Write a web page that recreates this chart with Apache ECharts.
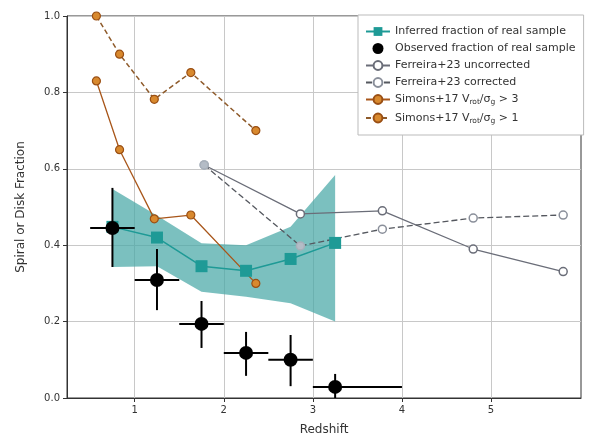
<!DOCTYPE html>
<html><head><meta charset="utf-8">
<script src="https://cdn.jsdelivr.net/npm/echarts@6/dist/echarts.min.js"></script>
<style>html,body{margin:0;padding:0;background:#fff}#c{width:596px;height:442px}</style>
</head><body><div id="c"></div>
<script>
// ---- data ----
const xBins = [0.75, 1.25, 1.75, 2.25, 2.75, 3.25];
const yInferred = [0.448, 0.42, 0.345, 0.333, 0.364, 0.406];
const bandUpper = [0.547, 0.478, 0.405, 0.40, 0.448, 0.584];
const bandLower = [0.343, 0.345, 0.278, 0.265, 0.248, 0.20];

const yObserved = [0.445, 0.309, 0.194, 0.118, 0.10, 0.029];
const xErrLo = [0.5, 1.0, 1.5, 2.0, 2.5, 3.0];
const xErrHi = [1.0, 1.5, 2.0, 2.5, 3.0, 4.0];
const yErrLo = [0.343, 0.23, 0.131, 0.058, 0.031, 0.0];
const yErrHi = [0.55, 0.39, 0.254, 0.173, 0.165, 0.063];

const xFerreira = [1.78, 2.86, 3.78, 4.80, 5.81];
const yFerUncorr = [0.61, 0.482, 0.49, 0.39, 0.331];
const yFerCorr = [0.61, 0.398, 0.442, 0.471, 0.479];

const xSimons = [0.57, 0.83, 1.22, 1.63, 2.36];
const ySimons3 = [0.83, 0.65, 0.469, 0.479, 0.30];
const ySimons1 = [1.0, 0.90, 0.782, 0.852, 0.70];

const xTicks = [1, 2, 3, 4, 5];

const names = [
  'Inferred fraction of real sample',
  'Observed fraction of real sample',
  'Ferreira+23 uncorrected',
  'Ferreira+23 corrected',
  'Simons+17 V_rot/σ_g > 3',
  'Simons+17 V_rot/σ_g > 1'
];

const zip = (xs, ys) => xs.map((x, i) => [x, ys[i]]);

const chart = echarts.init(document.getElementById('c'), null, {renderer: 'canvas'});
const font = 'DejaVu Sans';

const option = {
  animation: false,
  textStyle: {fontFamily: font},
  grid: {left: 67, right: 15, top: 16, bottom: 44, show: true, borderColor: '#333', borderWidth: 1},
  xAxis: {
    type: 'value', min: 0.24, max: 6.01,
    name: 'Redshift', nameLocation: 'middle', nameGap: 26,
    nameTextStyle: {fontSize: 12, color: '#333', fontFamily: font},
    axisLine: {show: true, onZero: false, lineStyle: {color: '#333'}},
    axisTick: {show: true, inside: false, length: 4, customValues: xTicks, lineStyle: {color: '#333'}},
    axisLabel: {customValues: xTicks, fontSize: 10, color: '#333', margin: 7, fontFamily: font},
    splitLine: {show: true, lineStyle: {color: '#c8c8c8', width: 1}}
  },
  yAxis: {
    type: 'value', min: 0, max: 1, interval: 0.2,
    name: 'Spiral or Disk Fraction', nameLocation: 'middle', nameGap: 40,
    nameTextStyle: {fontSize: 12, color: '#333', fontFamily: font},
    axisLine: {show: true, lineStyle: {color: '#333'}},
    axisTick: {show: true, length: 4, lineStyle: {color: '#333'}},
    axisLabel: {fontSize: 10, color: '#333', margin: 7, formatter: v => v.toFixed(1), fontFamily: font},
    splitLine: {show: true, lineStyle: {color: '#c8c8c8', width: 1}}
  },
  legend: {
    orient: 'vertical', left: 358, top: 15,
    data: names,
    itemWidth: 24, itemHeight: 11, itemGap: 6,
    padding: [11, 8, 10, 7],
    backgroundColor: '#fff', borderColor: '#bbb', borderWidth: 1,
    textStyle: {fontSize: 11, color: '#333', fontFamily: font,
      rich: {s: {fontSize: 7.5, verticalAlign: 'bottom', padding: [6, 0, 0, 0]}}},
    formatter: n => n.replace(/_(rot|g)/g, '{s|$1}')
  },
  series: [
    {
      name: 'band', type: 'custom', z: 1, silent: true,
      data: [0],
      renderItem: (params, api) => {
        const pts = [];
        xBins.forEach((x, i) => pts.push(api.coord([x, bandUpper[i]])));
        for (let i = xBins.length - 1; i >= 0; i--) pts.push(api.coord([xBins[i], bandLower[i]]));
        return {type: 'polygon', shape: {points: pts}, style: {fill: 'rgba(72,168,166,0.72)'}};
      }
    },
    {
      name: names[0], type: 'line', z: 5, data: zip(xBins, yInferred),
      color: '#1e9a96',
      symbol: 'rect', symbolSize: 12,
      lineStyle: {color: '#1e9a96', width: 1.5},
      itemStyle: {color: '#1e9a96'}
    },
    {
      name: 'errbars', type: 'custom', z: 6, silent: true,
      data: xBins.map((x, i) => [x, yObserved[i], xErrLo[i], xErrHi[i], yErrLo[i], yErrHi[i]]),
      renderItem: (params, api) => {
        const x = api.value(0), y = api.value(1);
        const a = api.coord([api.value(2), y]), b = api.coord([api.value(3), y]);
        const c = api.coord([x, api.value(4)]), d = api.coord([x, api.value(5)]);
        return {type: 'group', children: [
          {type: 'line', shape: {x1: a[0], y1: a[1], x2: b[0], y2: b[1]}, style: {stroke: '#000', lineWidth: 2}},
          {type: 'line', shape: {x1: c[0], y1: c[1], x2: d[0], y2: d[1]}, style: {stroke: '#000', lineWidth: 2}}
        ]};
      }
    },
    {
      name: names[1], type: 'scatter', z: 7, data: zip(xBins, yObserved),
      symbol: 'circle', symbolSize: 14, itemStyle: {color: '#000', opacity: 1}
    },
    {
      name: names[2], type: 'line', z: 4,
      symbol: 'circle', symbolSize: 8,
      lineStyle: {color: '#6a6d78', width: 1.3},
      itemStyle: {color: '#fff', borderColor: '#6a6d78', borderWidth: 1.5},
      data: zip(xFerreira, yFerUncorr).map((p, i) => i === 0 ? {value: p, itemStyle: {color: '#9aa6b2', borderColor: '#9aa6b2'}} : p)
    },
    {
      name: names[3], type: 'line', z: 4,
      symbol: 'circle', symbolSize: 8,
      lineStyle: {color: '#55585f', width: 1.3, type: [6, 3]},
      itemStyle: {color: '#fff', borderColor: '#8a8f9a', borderWidth: 1.5},
      data: zip(xFerreira, yFerCorr).map((p, i) => i <= 1 ? {value: p, itemStyle: {color: '#b4bcc6', borderColor: '#a8b0ba'}} : p)
    },
    {
      name: names[4], type: 'line', z: 3, data: zip(xSimons, ySimons3),
      symbol: 'circle', symbolSize: 8,
      lineStyle: {color: '#a8561a', width: 1.3},
      itemStyle: {color: '#d8892e', borderColor: '#9a4f14', borderWidth: 1.2}
    },
    {
      name: names[5], type: 'line', z: 3, data: zip(xSimons, ySimons1), clip: false,
      symbol: 'circle', symbolSize: 8,
      lineStyle: {color: '#8e5a2a', width: 1.5, type: [5, 3]},
      itemStyle: {color: '#d8892e', borderColor: '#9a4f14', borderWidth: 1.2}
    }
  ]
};
chart.setOption(option);
</script></body></html>
